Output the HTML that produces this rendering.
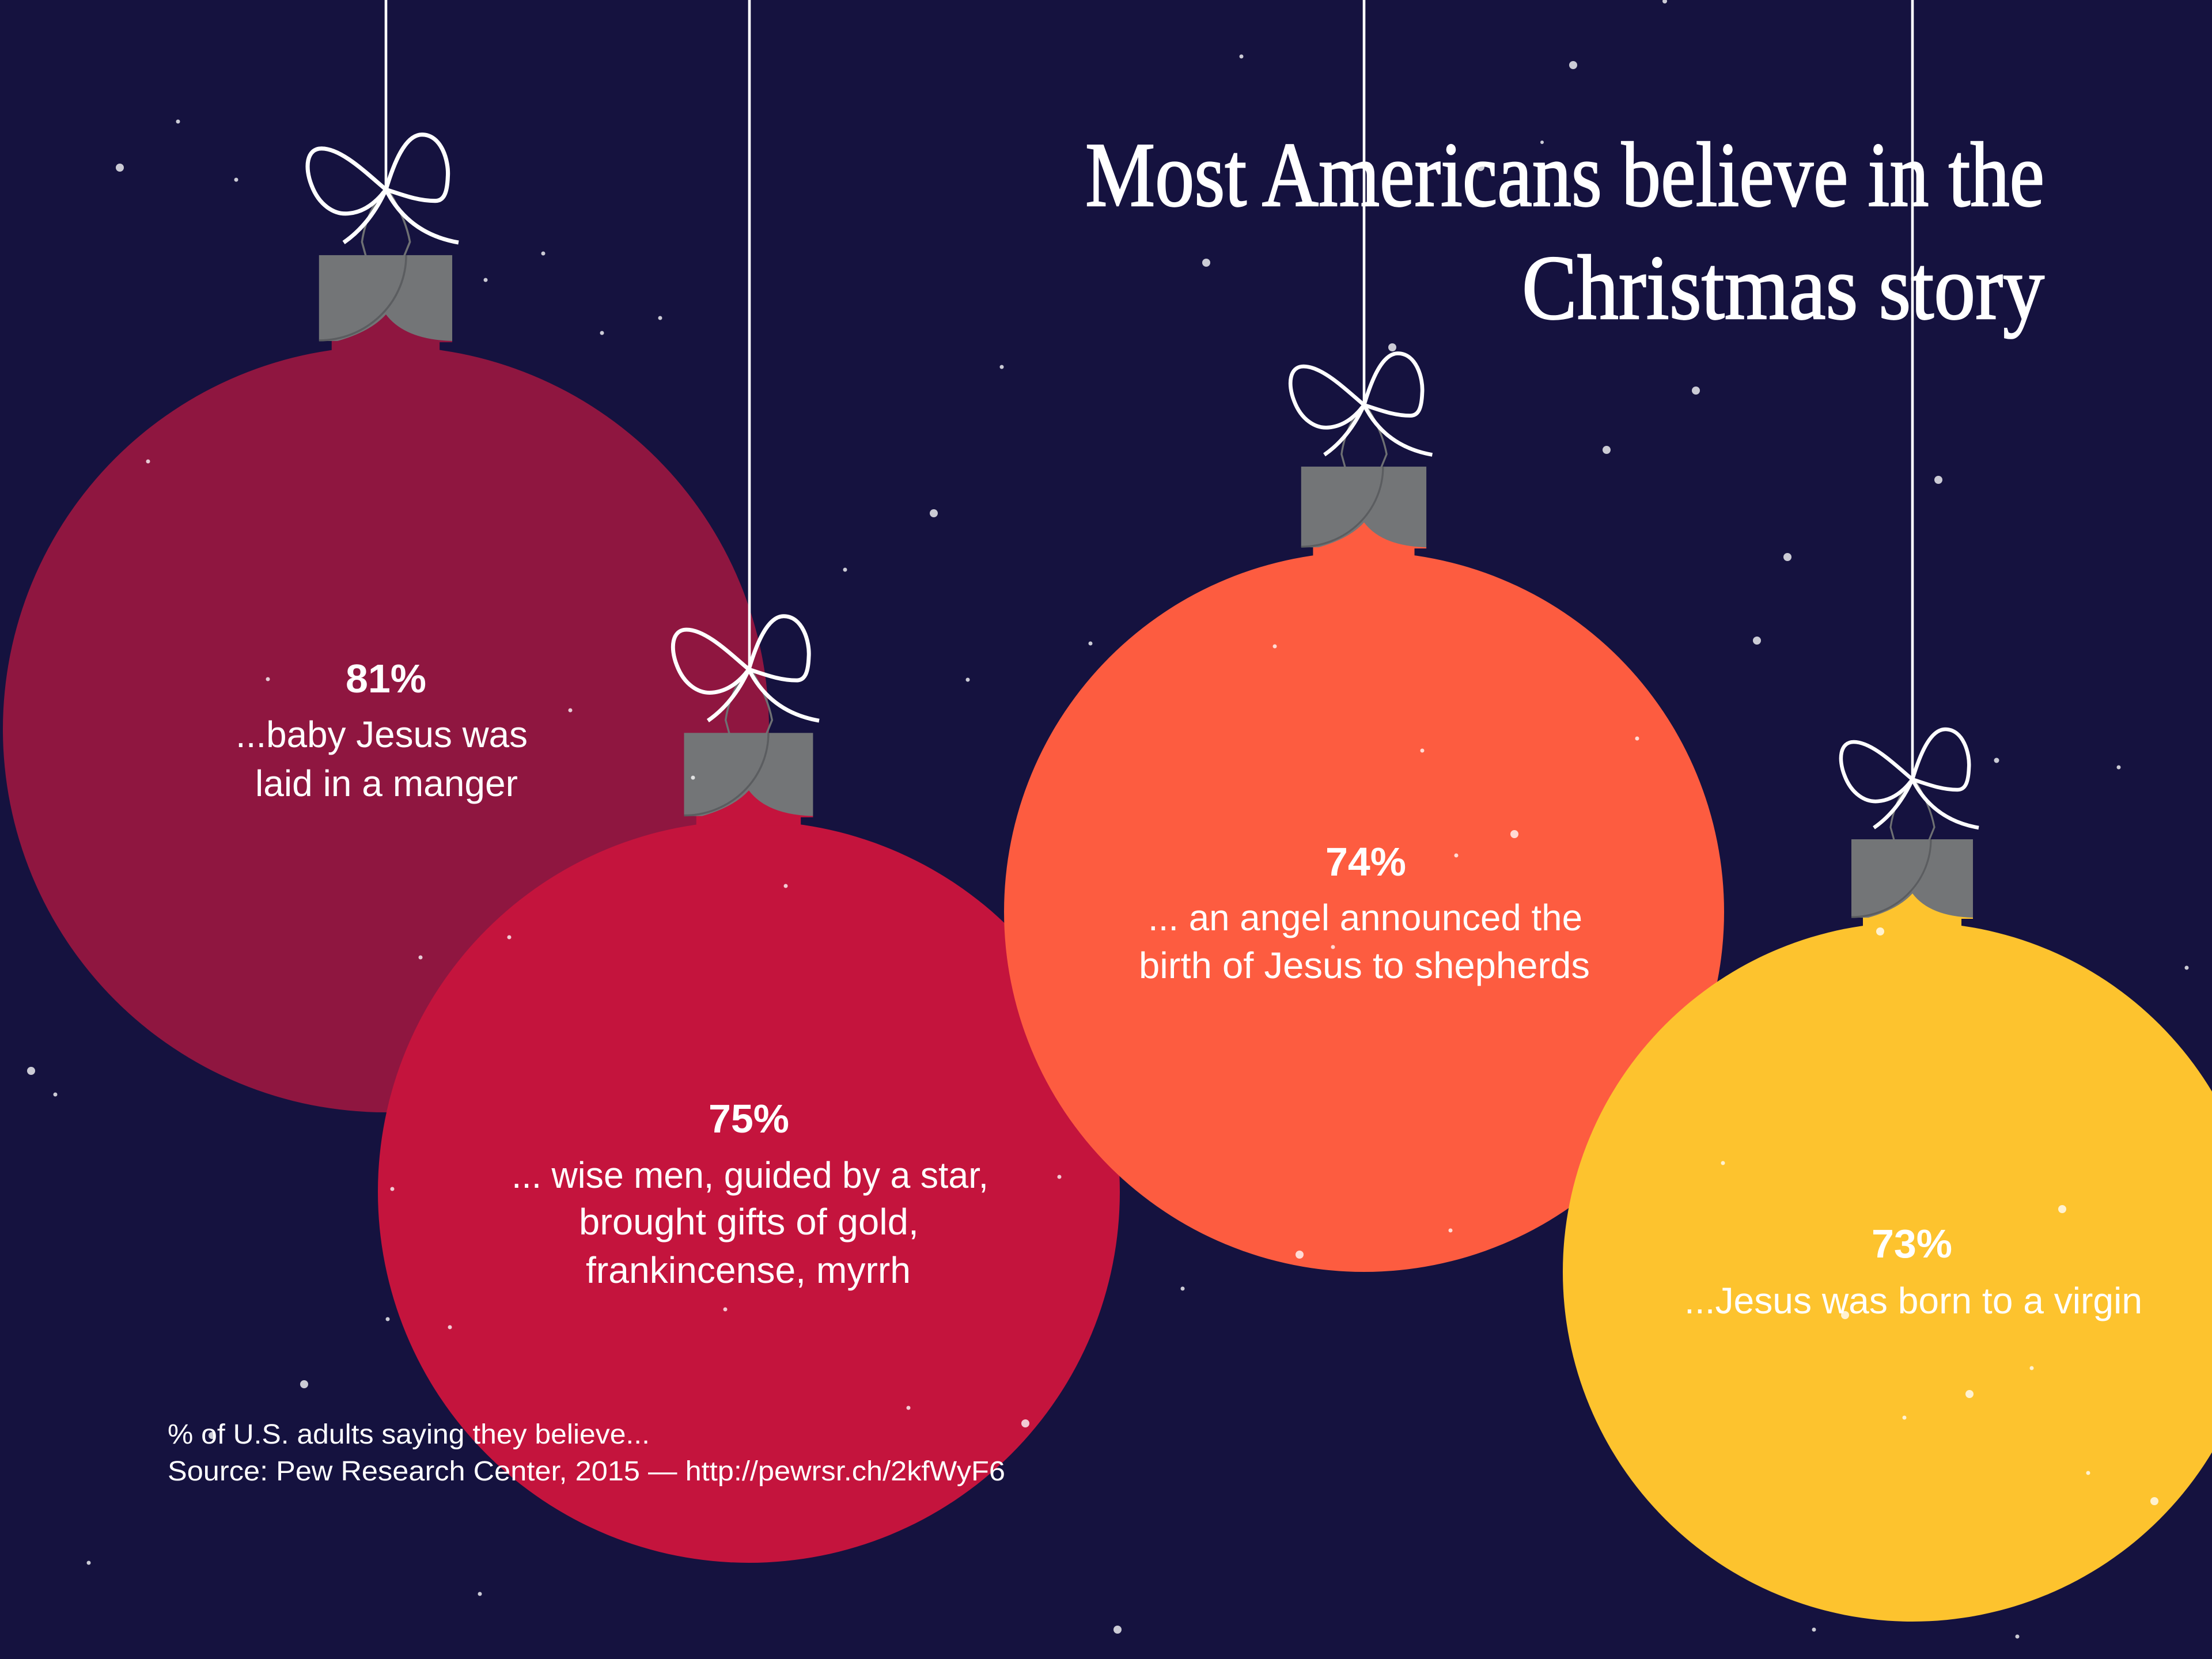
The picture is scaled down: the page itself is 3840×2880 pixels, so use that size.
<!DOCTYPE html>
<html>
<head>
<meta charset="utf-8">
<style>
  html, body { margin: 0; padding: 0; background: #15123f; }
  svg { display: block; }
</style>
</head>
<body>
<svg xmlns="http://www.w3.org/2000/svg" width="3840" height="2880" viewBox="0 0 3840 2880">
  <defs>
    <g id="orn">
      <!-- neck -->
      <rect x="-86" y="236" width="171" height="20" fill="currentColor"/>
      <!-- hook wire -->
      <path d="M -32 105 L -38 83 Q -32 40 -5 3" fill="none" stroke="#6e7073" stroke-width="3.2"/>
      <path d="M 29 105 L 38 83 Q 31 45 5 3" fill="none" stroke="#6e7073" stroke-width="3.2"/>
      <!-- cap -->
      <rect x="-106" y="104" width="211" height="136" fill="#737577"/>
      <!-- bump -->
      <path d="M -80 241 Q -25 226 0 198 Q 30 238 105 240 L 105 242 L -80 242 Z" fill="currentColor"/>
      <!-- sector -->
      <path d="M -106 104 L 32 104 A 138 135 0 0 1 -106 239 Z" fill="#737577"/>
      <path d="M 32 104 A 138 135 0 0 1 -106 239" fill="none" stroke="#5b5d60" stroke-width="3.2"/>
      <!-- bow -->
      <g fill="none" stroke="#ffffff" stroke-width="6.5" stroke-linecap="butt" stroke-linejoin="round">
        <path d="M 0 0 C -30 -25, -70 -65, -102 -65 C -126 -65, -129 -35, -118 -7 C -106 25, -82 40, -60 38 C -35 36, -15 20, 0 0"/>
        <path d="M 0 0 C 12 -40, 30 -87, 57 -87 C 88 -87, 100 -45, 98 -20 C 97 5, 92 18, 78 18 C 50 18, 25 8, 0 0"/>
        <path d="M 0 0 Q -25 55 -67 84"/>
        <path d="M 0 0 Q 35 70 115 84"/>
      </g>
    </g>
  </defs>

  <rect x="0" y="0" width="3840" height="2880" fill="#15123f"/>

  <!-- Title -->
  <g fill="#ffffff" stroke="#ffffff" stroke-width="2.5" font-family="'Liberation Serif', serif" font-size="160">
    <text x="1884" y="357" textLength="1665" lengthAdjust="spacingAndGlyphs">Most Americans believe in the</text>
    <text x="2642" y="553" textLength="907" lengthAdjust="spacingAndGlyphs">Christmas story</text>
  </g>

  <!-- Ball 1 -->
  <g color="#8f1640">
    <line x1="670" y1="0" x2="670" y2="330" stroke="#ffffff" stroke-width="4.6"/>
    <circle cx="670" cy="1266" r="665" fill="#8f1640"/>
    <use href="#orn" transform="translate(670 329) scale(1.0956)"/>
  </g>

  <!-- Ball 2 -->
  <g color="#c4143d">
    <line x1="1301" y1="0" x2="1301" y2="1163" stroke="#ffffff" stroke-width="4.6"/>
    <circle cx="1300" cy="2069" r="644" fill="#c4143d"/>
    <use href="#orn" transform="translate(1300 1162) scale(1.061)"/>
  </g>

  <!-- Ball 3 -->
  <g color="#fd5c40">
    <line x1="2368" y1="0" x2="2368" y2="704" stroke="#ffffff" stroke-width="4.6"/>
    <circle cx="2368" cy="1583" r="625" fill="#fd5c40"/>
    <use href="#orn" transform="translate(2368 703) scale(1.0297)"/>
  </g>

  <!-- Ball 4 -->
  <g color="#fdc32e">
    <line x1="3320" y1="0" x2="3320" y2="1354" stroke="#ffffff" stroke-width="4.6"/>
    <circle cx="3320" cy="2208" r="607" fill="#fdc32e"/>
    <use href="#orn" transform="translate(3320 1353) scale(1)"/>
  </g>

  <!-- Labels -->
  <g fill="#ffffff" font-family="'Liberation Sans', sans-serif">
    <g font-weight="bold" font-size="70" text-anchor="middle">
      <text x="670" y="1202">81%</text>
      <text x="1300" y="1966">75%</text>
      <text x="2371" y="1520">74%</text>
      <text x="3319" y="2183">73%</text>
    </g>
    <g font-size="64">
      <text x="409" y="1297" textLength="507" lengthAdjust="spacingAndGlyphs">...baby Jesus was</text>
      <text x="443" y="1382" textLength="456" lengthAdjust="spacingAndGlyphs">laid in a manger</text>

      <text x="888" y="2062" textLength="828" lengthAdjust="spacingAndGlyphs">... wise men, guided by a star,</text>
      <text x="1005" y="2143" textLength="590" lengthAdjust="spacingAndGlyphs">brought gifts of gold,</text>
      <text x="1017" y="2227" textLength="564" lengthAdjust="spacingAndGlyphs">frankincense, myrrh</text>

      <text x="1993" y="1615" textLength="754" lengthAdjust="spacingAndGlyphs">... an angel announced the</text>
      <text x="1977" y="1698" textLength="783" lengthAdjust="spacingAndGlyphs">birth of Jesus to shepherds</text>

      <text x="2924" y="2280" textLength="795" lengthAdjust="spacingAndGlyphs">...Jesus was born to a virgin</text>
    </g>
    <g font-size="48">
      <text x="291" y="2506" textLength="837" lengthAdjust="spacingAndGlyphs">% of U.S. adults saying they believe...</text>
      <text x="291" y="2570" textLength="1454" lengthAdjust="spacingAndGlyphs">Source: Pew Research Center, 2015 — http://pewrsr.ch/2kfWyF6</text>
    </g>
  </g>

  <!-- Stars -->
  <g fill="#ffffff" fill-opacity="0.78">
    <circle cx="2890" cy="2" r="4"/>
    <circle cx="2731" cy="113" r="7"/>
    <circle cx="2155" cy="98" r="3.5"/>
    <circle cx="309" cy="211" r="3.5"/>
    <circle cx="208" cy="291" r="7"/>
    <circle cx="410" cy="312" r="3.5"/>
    <circle cx="943" cy="440" r="3.5"/>
    <circle cx="843" cy="486" r="3.5"/>
    <circle cx="1146" cy="552" r="3.5"/>
    <circle cx="1045" cy="578" r="3.5"/>
    <circle cx="2094" cy="456" r="7"/>
    <circle cx="2417" cy="603" r="7"/>
    <circle cx="2570" cy="290" r="7"/>
    <circle cx="2677" cy="247" r="3"/>
    <circle cx="1739" cy="637" r="3.5"/>
    <circle cx="2944" cy="678" r="7"/>
    <circle cx="2789" cy="781" r="7"/>
    <circle cx="3365" cy="833" r="7"/>
    <circle cx="257" cy="801" r="3.5"/>
    <circle cx="1621" cy="891" r="7"/>
    <circle cx="1467" cy="989" r="3.5"/>
    <circle cx="3103" cy="967" r="7"/>
    <circle cx="3050" cy="1112" r="7"/>
    <circle cx="1893" cy="1117" r="3.5"/>
    <circle cx="2213" cy="1122" r="3.5"/>
    <circle cx="465" cy="1179" r="3.5"/>
    <circle cx="990" cy="1233" r="3.5"/>
    <circle cx="1680" cy="1180" r="3.5"/>
    <circle cx="1203" cy="1350" r="3.5"/>
    <circle cx="2842" cy="1282" r="3.5"/>
    <circle cx="2469" cy="1303" r="3.5"/>
    <circle cx="3466" cy="1320" r="4.5"/>
    <circle cx="3678" cy="1332" r="3.5"/>
    <circle cx="2629" cy="1448" r="7"/>
    <circle cx="2528" cy="1485" r="3.5"/>
    <circle cx="1364" cy="1538" r="3.5"/>
    <circle cx="884" cy="1627" r="3.5"/>
    <circle cx="3264" cy="1617" r="7"/>
    <circle cx="2314" cy="1644" r="3.5"/>
    <circle cx="730" cy="1662" r="3.5"/>
    <circle cx="3796" cy="1680" r="3.5"/>
    <circle cx="54" cy="1859" r="7"/>
    <circle cx="96" cy="1900" r="3.5"/>
    <circle cx="1839" cy="2043" r="3.5"/>
    <circle cx="681" cy="2064" r="3.5"/>
    <circle cx="2991" cy="2019" r="3.5"/>
    <circle cx="3580" cy="2099" r="7"/>
    <circle cx="2518" cy="2136" r="3.5"/>
    <circle cx="2256" cy="2178" r="7"/>
    <circle cx="2053" cy="2237" r="3.5"/>
    <circle cx="1259" cy="2273" r="3.5"/>
    <circle cx="3203" cy="2283" r="7"/>
    <circle cx="781" cy="2304" r="3.5"/>
    <circle cx="673" cy="2290" r="3.5"/>
    <circle cx="3527" cy="2375" r="3.5"/>
    <circle cx="528" cy="2403" r="7"/>
    <circle cx="3419" cy="2420" r="7"/>
    <circle cx="1577" cy="2444" r="3.5"/>
    <circle cx="1780" cy="2471" r="7"/>
    <circle cx="3306" cy="2461" r="3.5"/>
    <circle cx="368" cy="2492" r="6"/>
    <circle cx="3625" cy="2557" r="3.5"/>
    <circle cx="3740" cy="2606" r="7"/>
    <circle cx="154" cy="2713" r="3.5"/>
    <circle cx="833" cy="2767" r="3.5"/>
    <circle cx="1940" cy="2829" r="7"/>
    <circle cx="3149" cy="2829" r="3.5"/>
    <circle cx="3502" cy="2841" r="3.5"/>
  </g>
</svg>
</body>
</html>
